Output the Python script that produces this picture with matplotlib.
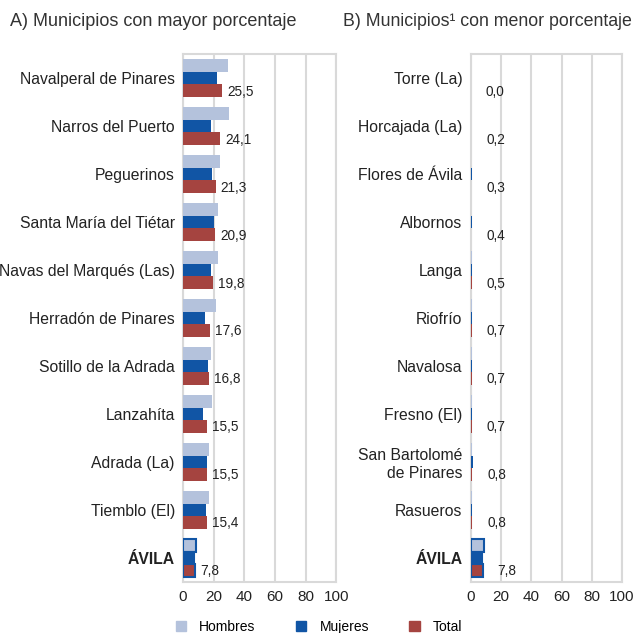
import matplotlib.pyplot as plt
from matplotlib.patches import Patch
import numpy as np

plt.rcParams['font.family'] = ['Liberation Sans', 'DejaVu Sans']

# A) municipios con mayor porcentaje
mayor_labels = ["Navalperal de Pinares", "Narros del Puerto", "Peguerinos",
                "Santa María del Tiétar", "Navas del Marqués (Las)",
                "Herradón de Pinares", "Sotillo de la Adrada", "Lanzahíta",
                "Adrada (La)", "Tiemblo (El)", "ÁVILA"]
mayor_hombres = [29.5, 29.9, 24.2, 23.1, 22.7, 21.3, 18.5, 18.7, 16.7, 17.1, 8.4]
mayor_mujeres = [22.2, 18.0, 19.1, 20.0, 18.0, 14.1, 16.1, 13.2, 15.4, 14.8, 7.2]
mayor_total = [25.5, 24.1, 21.3, 20.9, 19.8, 17.6, 16.8, 15.5, 15.5, 15.4, 7.8]

# B) municipios con menor porcentaje
menor_labels = ["Torre (La)", "Horcajada (La)", "Flores de Ávila", "Albornos",
                "Langa", "Riofrío", "Navalosa", "Fresno (El)",
                "San Bartolomé\nde Pinares", "Rasueros", "ÁVILA"]
menor_hombres = [0.1, 0.3, 0.3, 0.3, 0.5, 0.6, 0.5, 0.5, 0.6, 0.6, 8.4]
menor_mujeres = [0.2, 0.1, 0.5, 0.6, 0.5, 0.9, 0.9, 0.9, 1.2, 1.0, 7.2]
menor_total = [0.0, 0.2, 0.3, 0.4, 0.5, 0.7, 0.7, 0.7, 0.8, 0.8, 7.8]

xticks = [0, 20, 40, 60, 80, 100]

c_h = "#b4c2dc"
c_m = "#1155a5"
c_t = "#a54440"
grid_c = "#d9d9d9"


def draw_panel(ax, labels, hombres, mujeres, total, label_off):
    idx = np.arange(len(labels))
    h = 0.26
    edges = ["none"] * (len(labels) - 1) + [c_m]
    lws = [0] * (len(labels) - 1) + [1.5]
    ax.barh(idx - h, hombres, height=h, color=c_h, edgecolor=edges, linewidth=lws, zorder=3)
    ax.barh(idx, mujeres, height=h, color=c_m, edgecolor=edges, linewidth=lws, zorder=3)
    ax.barh(idx + h, total, height=h, color=c_t, edgecolor=edges, linewidth=lws, zorder=3)
    for i, v in enumerate(total):
        ax.annotate(("%.1f" % v).replace(".", ","), xy=(v, i + h), xytext=(label_off, -1),
                    textcoords="offset pixels", va="center", ha="left",
                    fontsize=9.8, color="#222222")
    ax.set_xlim(0, 100)
    ax.set_ylim(len(labels) - 0.5, -0.5)
    ax.set_xticks(xticks)
    ax.set_xticklabels([str(x) for x in xticks], fontsize=11, color="#222222")
    ax.set_yticks(idx)
    ax.set_yticklabels(labels, fontsize=11.3, color="#222222")
    ax.get_yticklabels()[-1].set_fontweight("bold")
    ax.tick_params(length=0, pad=6)
    ax.xaxis.grid(True, color=grid_c, linewidth=1.5, zorder=0)
    ax.set_axisbelow(True)
    for s in ax.spines.values():
        s.set_color(grid_c)
        s.set_linewidth(1.5)


fig = plt.figure(figsize=(6.38, 6.33), dpi=100)
ax1 = fig.add_axes([0.287, 0.0806, 0.240, 0.834])
ax2 = fig.add_axes([0.738, 0.0806, 0.237, 0.834])

draw_panel(ax1, mayor_labels, mayor_hombres, mayor_mujeres, mayor_total, 5)
draw_panel(ax2, menor_labels, menor_hombres, menor_mujeres, menor_total, 15)

fig.text(10 / 638, 1 - 22 / 633, "A) Municipios con mayor porcentaje", fontsize=13,
         color="#333333", va="center", ha="left")
fig.text(343 / 638, 1 - 22 / 633, "B) Municipios¹ con menor porcentaje", fontsize=12.8,
         color="#333333", va="center", ha="left")

handles = [Patch(color=c_h), Patch(color=c_m), Patch(color=c_t)]
fig.legend(handles, ["Hombres", "Mujeres", "Total"], loc="center",
           bbox_to_anchor=(0.5, 1 - 627 / 633), ncol=3, frameon=False,
           fontsize=10, handlelength=0.75, handleheight=0.75,
           handletextpad=0.95, columnspacing=2.9)

fig.savefig("out.png", dpi=100)
